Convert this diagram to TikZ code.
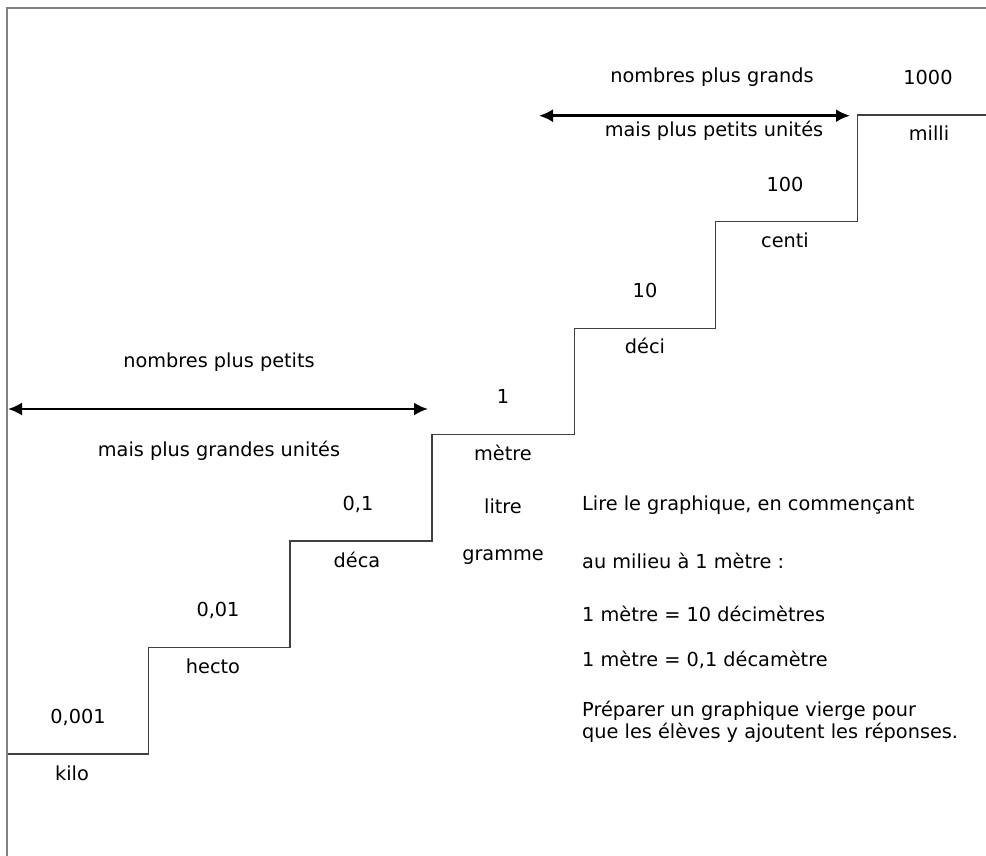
\documentclass[tikz,border=0pt]{standalone}
\usepackage{fontspec}
\setmainfont{DejaVu Sans}
\usetikzlibrary{arrows.meta}
\begin{document}
\begin{tikzpicture}[x=1pt,y=-1pt,
  lbl/.style={inner sep=0pt,font=\fontsize{19.3}{22.5}\selectfont},
  note/.style={lbl,anchor=west,align=left},
  frame/.style={draw=gray,line width=1.6pt},
  stair/.style={draw=black!75,line width=1.5pt},
  dblarrow/.style={draw=black,line width=2.4pt,{Latex[length=14pt,width=13pt]}-{Latex[length=14pt,width=13pt]}}]
\useasboundingbox (0,0) rectangle (986,856);
% frame
\coordinate (fTR) at (986,8);
\coordinate (fTL) at (7,8);
\coordinate (fBL) at (7,856);
\draw[frame] (fTR) -- (fTL) -- (fBL);
% staircase
\coordinate (s0) at (8,754);
\coordinate (s1) at (148.5,754);
\coordinate (s2) at (148.5,647.5);
\coordinate (s3) at (290,647.5);
\coordinate (s4) at (290,541);
\coordinate (s5) at (432,541);
\coordinate (s6) at (432,434.5);
\coordinate (s7) at (574.5,434.5);
\coordinate (s8) at (574.5,328.3);
\coordinate (s9) at (715.7,328.3);
\coordinate (s10) at (715.7,221.7);
\coordinate (s11) at (857.3,221.7);
\coordinate (s12) at (857.3,115);
\coordinate (s13) at (986,115);
\draw[stair] (s0) -- (s1) -- (s2) -- (s3) -- (s4) -- (s5) -- (s6) -- (s7) -- (s8) -- (s9) -- (s10) -- (s11) -- (s12) -- (s13);
% step labels
\node[lbl] (n1) at (78,717) {0,001};
\node[lbl] (u1) at (72,773) {kilo};
\node[lbl] (n2) at (218,610) {0,01};
\node[lbl] (u2) at (213,666) {hecto};
\node[lbl] (n3) at (358,504) {0,1};
\node[lbl] (u3) at (357,560) {déca};
\node[lbl] (n4) at (503,396) {1};
\node[lbl] (u4) at (503,453) {mètre};
\node[lbl] (u4b) at (503,506) {litre};
\node[lbl] (u4c) at (503,557) {gramme};
\node[lbl] (n5) at (645,290) {10};
\node[lbl] (u5) at (645,346) {déci};
\node[lbl] (n6) at (785,184) {100};
\node[lbl] (u6) at (785,240) {centi};
\node[lbl] (n7) at (928,77) {1000};
\node[lbl] (u7) at (929,133) {milli};
% top arrow
\coordinate (a1L) at (539,115.7);
\coordinate (a1R) at (850,115.7);
\draw[dblarrow] (a1L) -- (a1R);
\node[lbl] (t1) at (712,77) {nombres plus grands};
\node[lbl] (t2) at (714,131) {mais plus petits unités};
% bottom arrow
\coordinate (a2L) at (8,409);
\coordinate (a2R) at (428,409);
\draw[dblarrow] (a2L) -- (a2R);
\node[lbl] (b1) at (219,362) {nombres plus petits};
\node[lbl] (b2) at (219,451) {mais plus grandes unités};
% notes
\node[note] (r1) at (582,505) {Lire le graphique, en commençant};
\node[note] (r2) at (582,561) {au milieu à 1 mètre :};
\node[note] (r3) at (582,614) {1 mètre = 10 décimètres};
\node[note] (r4) at (582,660) {1 mètre = 0,1 décamètre};
\node[note] (r5) at (582,722) {Préparer un graphique vierge pour\\[-1pt]que les élèves y ajoutent les réponses.};
\end{tikzpicture}
\end{document}
